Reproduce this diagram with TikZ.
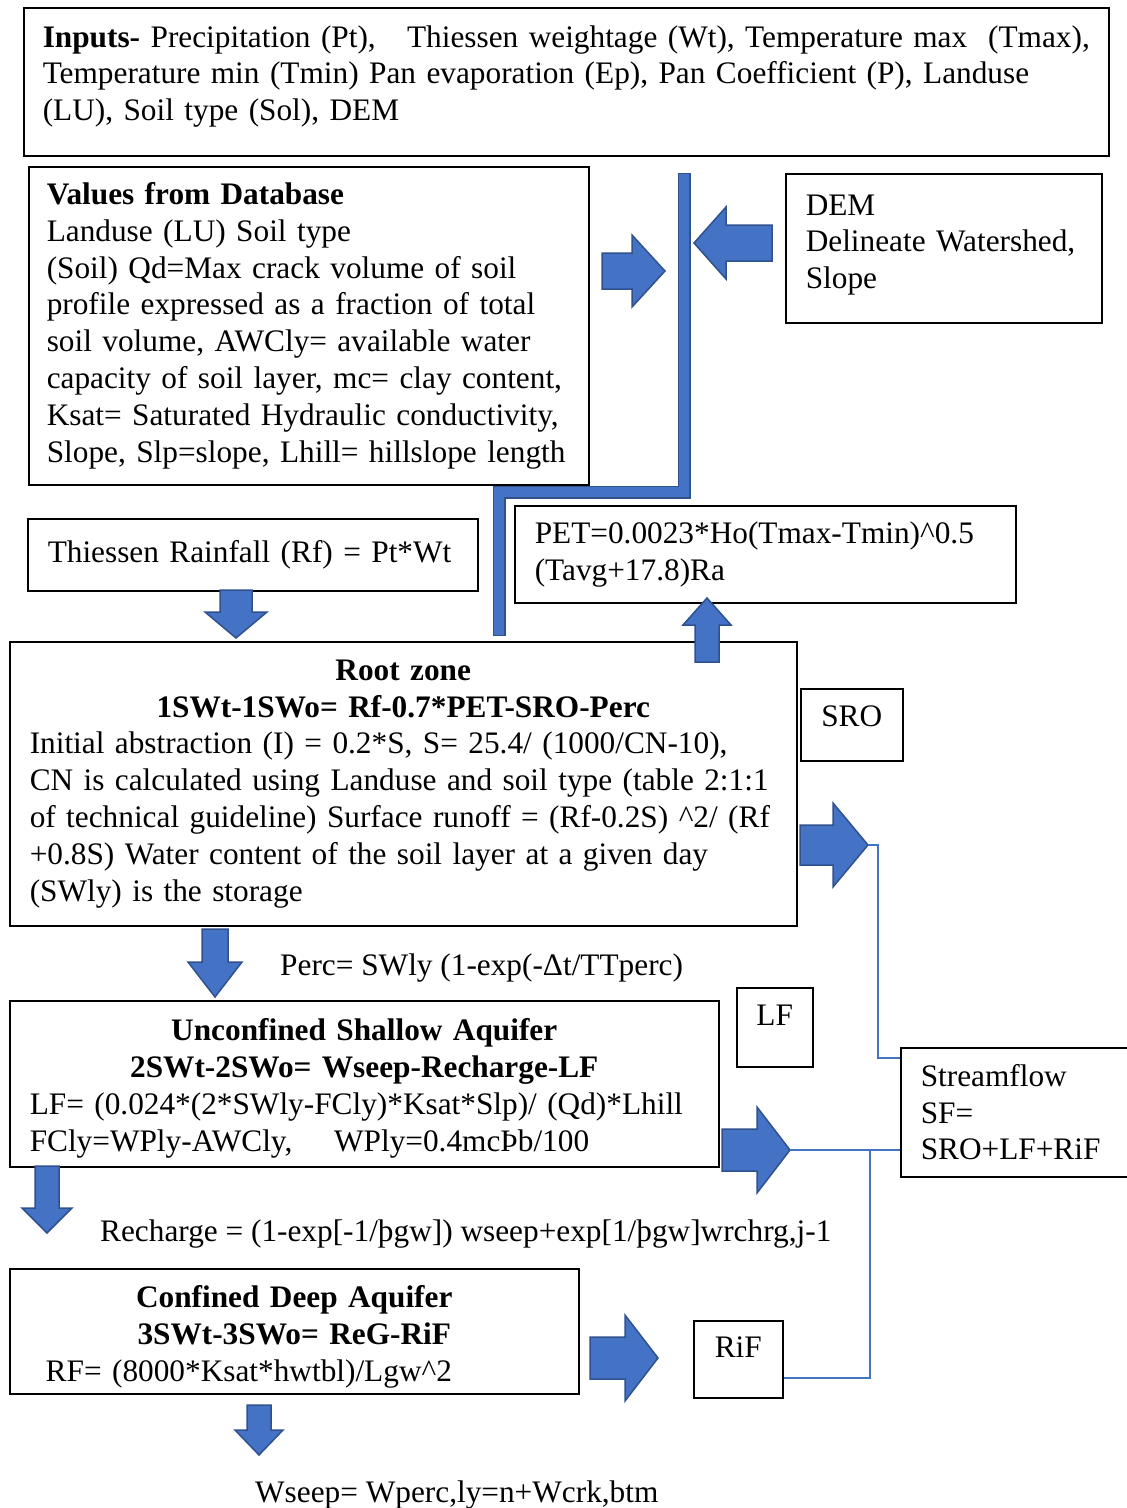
\documentclass[tikz,border=0pt]{standalone}
\usepackage{fontspec}
\setmainfont{Liberation Serif}
\usepackage{tikz}
\usetikzlibrary{positioning}

\definecolor{flowblue}{HTML}{4472C4}
\definecolor{edgeblue}{HTML}{2F528F}

\tikzset{
  box/.style={draw, line width=1.5pt, anchor=north west, inner xsep=20pt, inner ysep=4pt,
    align=left, font=\fontsize{31.3}{36.8}\selectfont},
  plain/.style={anchor=west, inner sep=0pt, font=\fontsize{31.3}{36.8}\selectfont},
  blk/.style={fill=flowblue, draw=edgeblue, line width=1.5pt, line join=miter},
  link/.style={draw=flowblue, line width=1.5pt},
}

% block arrows: start, head base, tip, centre line, half shaft, half head
\newcommand{\harrow}[6]{\filldraw[blk] (#1,#4-#5) -- (#2,#4-#5) -- (#2,#4-#6) -- (#3,#4)
  -- (#2,#4+#6) -- (#2,#4+#5) -- (#1,#4+#5) -- cycle;}
\newcommand{\varrow}[6]{\filldraw[blk] (#4-#5,#1) -- (#4-#5,#2) -- (#4-#6,#2) -- (#4,#3)
  -- (#4+#6,#2) -- (#4+#5,#2) -- (#4+#5,#1) -- cycle;}

\begin{document}
\begin{tikzpicture}[x=1pt,y=-1pt]
\useasboundingbox (0,0) rectangle (1127,1508);

% boxes
\node[box, minimum width=1085pt, minimum height=148pt, inner xsep=19pt, text width=1047pt, text depth=91pt] (inputs) at (23,7)
  {\textbf{Inputs-} Precipitation (Pt),\ \ \ Thiessen weightage (Wt), Temperature max\ \ (Tmax),\\
   Temperature min (Tmin) Pan evaporation (Ep), Pan Coefficient (P), Landuse\\
   (LU), Soil type (Sol), DEM};
\node[box, minimum width=560pt, minimum height=318pt, inner xsep=18pt, text width=524pt] (dbvals) at (28,166)
  {\textbf{Values from Database}\\
   Landuse (LU) Soil type\\
   (Soil) Qd=Max crack volume of soil\\
   profile expressed as a fraction of total\\
   soil volume, AWCly= available water\\
   capacity of soil layer, mc= clay content,\\
   Ksat= Saturated Hydraulic conductivity,\\
   Slope, Slp=slope, Lhill= hillslope length};
\node[box, minimum width=316pt, minimum height=149pt, text width=276pt, text depth=87pt] (dem) at (785,173)
  {DEM\\Delineate Watershed,\\Slope};
\node[box, minimum width=450pt, minimum height=72pt, text width=410pt] (rain) at (27,518)
  {Thiessen Rainfall (Rf) = Pt*Wt};
\node[box, minimum width=501pt, minimum height=97pt, text width=461pt] (pet) at (514,505)
  {PET=0.0023*Ho(Tmax-Tmin)\^{}0.5\\(Tavg+17.8)Ra};
\node[box, minimum width=787pt, minimum height=284pt, text width=747pt] (root) at (9,641)
  {{\centering\textbf{Root zone}\\\textbf{1SWt-1SWo= Rf-0.7*PET-SRO-Perc}\par}
   Initial abstraction (I) = 0.2*S, S= 25.4/ (1000/CN-10),\\
   CN is calculated using Landuse and soil type (table 2:1:1\\
   of technical guideline) Surface runoff = (Rf-0.2S) \^{}2/ (Rf\\
   +0.8S) Water content of the soil layer at a given day\\
   (SWly) is the storage};
\node[box, minimum width=102pt, minimum height=72pt, text width=62pt, align=center, text depth=17pt] (sro) at (800,688)
  {SRO};
\node[box, minimum width=709pt, minimum height=166pt, text width=669pt, text depth=108pt] (shallow) at (9,1000)
  {{\centering\textbf{Unconfined Shallow Aquifer}\\\textbf{2SWt-2SWo= Wseep-Recharge-LF}\par}
   LF= (0.024*(2*SWly-FCly)*Ksat*Slp)/ (Qd)*Lhill\\
   FCly=WPly-AWCly,\ \ \ \ WPly=0.4mcÞb/100};
\node[box, minimum width=76pt, minimum height=79pt, text width=56pt, inner xsep=10pt, align=center, text depth=24pt] (lf) at (736,987)
  {LF};
\node[box, minimum width=232pt, minimum height=129pt, text width=192pt] (flow) at (900,1047)
  {Streamflow\\SF=\\SRO+LF+RiF};
\node[box, minimum width=569pt, minimum height=125pt, text width=529pt, text depth=69pt] (deep) at (9,1268)
  {{\centering\textbf{Confined Deep Aquifer}\\\textbf{3SWt-3SWo= ReG-RiF}\par}
   \hspace*{16pt}RF= (8000*Ksat*hwtbl)/Lgw\^{}2};
\node[box, minimum width=89pt, minimum height=77pt, text width=69pt, inner xsep=10pt, align=center, text depth=25pt] (rif) at (693,1320)
  {RiF};

% free labels
\node[plain] (perc) at (280,968) {Perc= SWly (1-exp(-Δt/TTperc)};
\node[plain] (rech) at (100,1234) {Recharge = (1-exp[-1/þgw]) wseep+exp[1/þgw]wrchrg,j-1};
\node[plain] (wseep) at (255,1495) {Wseep= Wperc,ly=n+Wcrk,btm};

% bar from database and DEM to root zone
\draw[line width=13pt, edgeblue] (684,173) -- (684,492) -- (499,492) -- (499,636);
\draw[line width=10pt, flowblue] (684,174) -- (684,492) -- (499,492) -- (499,635);

% block arrows
\harrow{602}{632}{665}{271}{18}{36}
\harrow{772}{726}{694}{243}{18}{36}
\varrow{590}{612}{638}{236}{16}{31}
\varrow{662}{625}{598}{707}{12}{24}
\harrow{800}{833}{868}{845}{20}{42}
\varrow{929}{962}{997}{215}{13}{27}
\harrow{722}{757}{790}{1150}{21}{43}
\varrow{1166}{1208}{1233}{47}{12}{25}
\harrow{590}{625}{658}{1358}{21}{43}
\varrow{1405}{1430}{1455}{259}{12}{24}

\coordinate (sroTip) at (868,845);
\coordinate (lfTip) at (790,1150);

% thin links to streamflow
\draw[link] (sroTip) -- (878,845) |- ([yshift=-11pt]flow.north west);
\draw[link] (lfTip) -- (flow.west |- lfTip);
\draw[link] ([yshift=-18.5pt]rif.east) -| (870,1150);
\end{tikzpicture}
\end{document}
